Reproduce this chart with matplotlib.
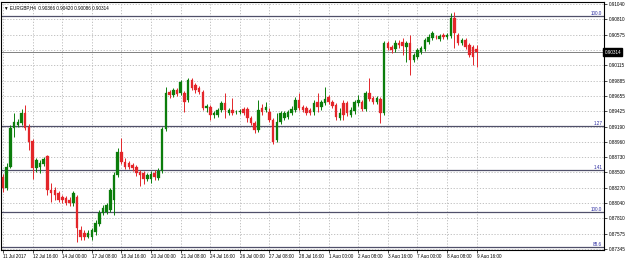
import matplotlib
matplotlib.use("Agg")
import matplotlib.pyplot as plt
import matplotlib.transforms as mtransforms
import numpy as np

# ---------------- data ----------------
opens = [.88431,.88265,.88582,.89170,.89215,.89245,.89396,.89185,.88974,.88566,
         .88582,.88627,.88748,.88235,.88235,.88190,.88129,.88114,.88084,.88039,
         .88129,.87632,.87586,.87526,.87526,.87601,.87722,.87888,.87903,.87933,
         .88084,.88461,.88808,.88657,.88642,.88612,.88582,.88506,.88491,.88401,
         .88401,.88491,.88416,.88521,.89155,.89713,.89667,.89743,.89698,.89698,
         .89592,.89894,.89818,.89773,.89713,.89471,.89486,.89366,.89366,.89441,
         .89547,.89396,.89441,.89404,.89411,.89456,.89456,.89321,.89245,.89140,
         .89471,.89441,.89411,.89290,.88989,.89260,.89321,.89336,.89396,.89441,
         .89592,.89486,.89471,.89441,.89411,.89562,.89486,.89547,.89637,.89562,
         .89517,.89321,.89547,.89547,.89366,.89426,.89547,.89562,.89456,.89698,
         .89622,.89562,.89607,.89396,.90452,.90391,.90361,.90452,.90467,.90391,
         .90452,.90195,.90240,.90316,.90361,.90467,.90527,.90542,.90512,.90572,
         .90542,.90557,.90829,.90572,.90452,.90497,.90421,.90391,.90366]
highs = [.88476,.88642,.89215,.89396,.89306,.89456,.89517,.89230,.89004,.88717,
         .88687,.88732,.88763,.88340,.88280,.88220,.88159,.88144,.88129,.88220,
         .88159,.87692,.87632,.87632,.87662,.87782,.87933,.88009,.88039,.88265,
         .88506,.88868,.89019,.88717,.88672,.88642,.88612,.88536,.88521,.88491,
         .88521,.88536,.88566,.89185,.89788,.89743,.89773,.89773,.89894,.89728,
         .89924,.89924,.89848,.89803,.89743,.89532,.89517,.89426,.89471,.89577,
         .89698,.89471,.89622,.89441,.89456,.89486,.89486,.89351,.89275,.89592,
         .89532,.89562,.89471,.89321,.89396,.89426,.89426,.89441,.89502,.89637,
         .89698,.89517,.89502,.89471,.89592,.89698,.89592,.89788,.89667,.89592,
         .89547,.89471,.89592,.89577,.89486,.89592,.89667,.89592,.89728,.89924,
         .89652,.89652,.89637,.90482,.90482,.90421,.90497,.90497,.90527,.90482,
         .90572,.90301,.90376,.90406,.90527,.90587,.90633,.90572,.90587,.90602,
         .90602,.90904,.90919,.90602,.90527,.90527,.90452,.90421,.90420]
lows = [.88205,.88235,.88566,.89034,.89185,.89215,.89140,.88838,.88401,.88506,
        .88491,.88597,.88159,.88054,.88084,.88054,.88039,.88009,.87994,.87994,
        .87451,.87481,.87481,.87511,.87481,.87556,.87692,.87858,.87873,.87903,
        .87858,.88431,.88627,.88551,.88551,.88521,.88446,.88295,.88325,.88371,
        .88340,.88386,.88386,.88491,.89125,.89622,.89637,.89652,.89667,.89411,
        .89562,.89743,.89698,.89682,.89441,.89411,.89290,.89321,.89336,.89411,
        .89321,.89366,.89366,.89381,.89381,.89366,.89260,.89215,.89094,.89110,
        .89366,.89411,.89260,.88928,.88959,.89230,.89290,.89306,.89366,.89411,
        .89441,.89411,.89366,.89366,.89366,.89411,.89441,.89517,.89532,.89471,
        .89290,.89290,.89290,.89351,.89336,.89381,.89502,.89426,.89426,.89577,
        .89532,.89532,.89245,.89366,.90346,.90301,.90316,.90376,.90271,.90165,
        .89969,.90165,.90210,.90286,.90331,.90436,.90497,.90512,.90482,.90512,
        .90512,.90527,.90376,.90421,.90421,.90361,.90240,.90120,.90086]
closes = [.88265,.88582,.89170,.89260,.89260,.89396,.89170,.88959,.88566,.88687,
          .88642,.88702,.88235,.88190,.88159,.88084,.88084,.88039,.88039,.88190,
          .87662,.87526,.87526,.87586,.87632,.87737,.87888,.87963,.88009,.88235,
          .88461,.88808,.88657,.88582,.88582,.88566,.88491,.88461,.88401,.88461,
          .88476,.88431,.88521,.89155,.89698,.89667,.89743,.89682,.89863,.89562,
          .89894,.89773,.89743,.89713,.89471,.89502,.89366,.89396,.89441,.89547,
          .89441,.89441,.89396,.89411,.89426,.89396,.89321,.89245,.89140,.89441,
          .89411,.89486,.89290,.88959,.89260,.89396,.89396,.89411,.89456,.89592,
          .89471,.89441,.89396,.89396,.89547,.89486,.89562,.89607,.89562,.89502,
          .89336,.89396,.89366,.89396,.89441,.89562,.89592,.89456,.89698,.89607,
          .89562,.89622,.89396,.90452,.90376,.90346,.90452,.90421,.90406,.90452,
          .90195,.90271,.90346,.90376,.90497,.90542,.90602,.90535,.90557,.90542,
          .90572,.90829,.90602,.90452,.90497,.90391,.90271,.90240,.90314]

x_labels = ["11 Jul 2017", "12 Jul 16:00", "14 Jul 00:00", "17 Jul 08:00",
            "18 Jul 16:00", "20 Jul 00:00", "21 Jul 08:00", "24 Jul 16:00",
            "26 Jul 00:00", "27 Jul 08:00", "28 Jul 16:00", "1 Aug 00:00",
            "2 Aug 08:00", "3 Aug 16:00", "7 Aug 00:00", "8 Aug 08:00",
            "9 Aug 16:00"]
bars_per_label = 8

y_ticks = [0.91040, 0.90810, 0.90575, 0.90345, 0.90115, 0.89885, 0.89655,
           0.89425, 0.89190, 0.88960, 0.88730, 0.88500, 0.88270, 0.88040,
           0.87810, 0.87575, 0.87345]

level_prices = [0.90859, 0.89200, 0.88536, 0.87903, 0.87375]
level_names = ["100.0", "1.27", "1.41", "100.0", "88.6"]

symbol = "EURGBP,H4"
current_price = 0.90314

# ---------------- figure ----------------
W, H = 625, 258
fig = plt.figure(figsize=(W / 100, H / 100), dpi=100)
ax = fig.add_axes([1 / W, 1 - 250 / H, 603 / W, 248 / H])
ax.set_facecolor("white")

FONT = "Liberation Sans"
FS = 3.3

n = len(opens)
idx = np.arange(n)
o = np.array(opens); c = np.array(closes)
hi = np.array(highs); lo = np.array(lows)
up = c >= o
green = "#0b7d0b"
red = "#e3262a"
cols = np.where(up, green, red)

ax.set_xlim(-0.55, 162.4)
ax.set_ylim(0.87330, 0.91070)

# grid
grid_kw = dict(color="#b8b8b8", lw=0.6, ls=(0, (1.5, 2)), zorder=0)
for k in range(len(x_labels)):
    ax.axvline(k * bars_per_label, **grid_kw)
for t in y_ticks:
    ax.axhline(t, **grid_kw)

# level lines
for p, name in zip(level_prices, level_names):
    ax.axhline(p, color="#50506a", lw=0.9, zorder=1)
    ax.text(0.997, p, name, transform=mtransforms.blended_transform_factory(ax.transAxes, ax.transData),
            ha="right", va="bottom", fontsize=FS, color="#2a2aa0", family=FONT, zorder=5)

# current price line
ax.axhline(current_price, color="#808080", lw=0.7, zorder=1)

# candles
ax.vlines(idx, lo, hi, colors=cols, lw=0.7, zorder=3)
heights = np.maximum(np.abs(c - o), 0.00003)
ax.bar(idx, heights, bottom=np.minimum(o, c), width=0.68, color=cols,
       edgecolor=cols, linewidth=0.2, zorder=4)

# axes styling
for s in ax.spines.values():
    s.set_color("black")
    s.set_linewidth(0.8)
ax.yaxis.tick_right()
ax.set_yticks(y_ticks)
# the tick label hidden behind the current-price box is left blank
ax.set_yticklabels(["" if abs(t - current_price) < 0.0005 else f"{t:.5f}" for t in y_ticks],
                   fontsize=FS, family=FONT)
ax.set_xticks([k * bars_per_label for k in range(len(x_labels))])
ax.set_xticklabels(x_labels, fontsize=FS, family=FONT, ha="left")
ax.tick_params(axis="both", length=2, width=0.5, pad=1.2, colors="black")

# current price box
ax.text(1.001, current_price, f"{current_price:.5f}",
        transform=mtransforms.blended_transform_factory(ax.transAxes, ax.transData),
        ha="left", va="center", fontsize=FS, family=FONT, color="white", zorder=10,
        bbox=dict(boxstyle="square,pad=0.25", fc="black", ec="black"), clip_on=False)

# header
ax.text(0.005, 0.985, f"\u25BC {symbol}  {opens[-1]:.5f} {highs[-1]:.5f} {lows[-1]:.5f} {closes[-1]:.5f}",
        transform=ax.transAxes, ha="left", va="top", fontsize=FS, family=["Liberation Sans", "DejaVu Sans"],
        color="black", zorder=10)

fig.savefig("out.png", dpi=100, facecolor="white")
